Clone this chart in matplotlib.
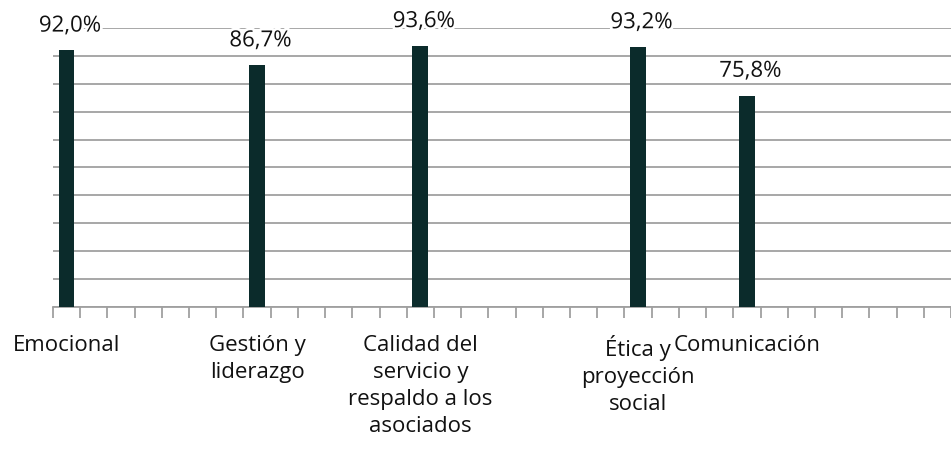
import matplotlib
matplotlib.use("Agg")
import matplotlib.pyplot as plt
import matplotlib.patheffects as pe
import numpy as np

plt.rcParams['font.family'] = ['Open Sans', 'DejaVu Sans']

# categories on the axis (blank slots are empty categories in the sheet)
labels = ["Emocional", "", "", "", "", "", "", "Gestión y\nliderazgo", "", "", "", "", "",
          "Calidad del\nservicio y\nrespaldo a los\nasociados", "", "", "", "", "", "", "",
          "Ética y\nproyección\nsocial", "", "", "", "Comunicación", "", "", "", "", "", "", ""]
values = [92.0, None, None, None, None, None, None, 86.7, None, None, None, None, None,
          93.6, None, None, None, None, None, None, None,
          93.2, None, None, None, 75.8, None, None, None, None, None, None, None]

vals = np.array([np.nan if v is None else v for v in values])
x = np.arange(len(labels))

fig = plt.figure(figsize=(9.51, 4.51), dpi=100)
ax = fig.add_axes([53 / 951, (451 - 307) / 451, 1 - 53 / 951, (307 - 28) / 451])

ax.set_ylim(0, 100)
ax.set_xlim(-0.5, 32.15)
ax.set_yticks(np.arange(0, 101, 10))
ax.yaxis.grid(True, color='#a0a0a0', linewidth=1.3)
ax.set_axisbelow(True)
ax.tick_params(axis='y', length=0, labelleft=False)

ax.bar(x, vals, width=0.58, color='#0b2b2b', zorder=3)

for xi, v in zip(x, vals):
    if np.isnan(v):
        continue
    ax.annotate("{:.1f}%".format(v).replace('.', ','), xy=(xi, v), xytext=(2.5, 13.5),
                textcoords='offset points', ha='center', va='baseline', fontsize=16,
                color='#111111', zorder=4,
                path_effects=[pe.withStroke(linewidth=4, foreground='white')])

# boundaries get the tick marks, centres get the labels
ax.set_xticks(np.arange(-0.5, len(labels) + 0.5, 1))
ax.set_xticklabels([])
ax.set_xticks(x, minor=True)
ax.set_xticklabels(labels, minor=True, fontsize=16, color='#111111', linespacing=1.37,
                   ha='center', va='top')
ax.tick_params(axis='x', which='major', length=8, width=1.3, color='#a0a0a0')
ax.tick_params(axis='x', which='minor', length=0, pad=20.5)

for s in ['left', 'right', 'top']:
    ax.spines[s].set_visible(False)
ax.spines['bottom'].set_color('#a0a0a0')
ax.spines['bottom'].set_linewidth(1.3)

fig.savefig('out.png', dpi=100)
